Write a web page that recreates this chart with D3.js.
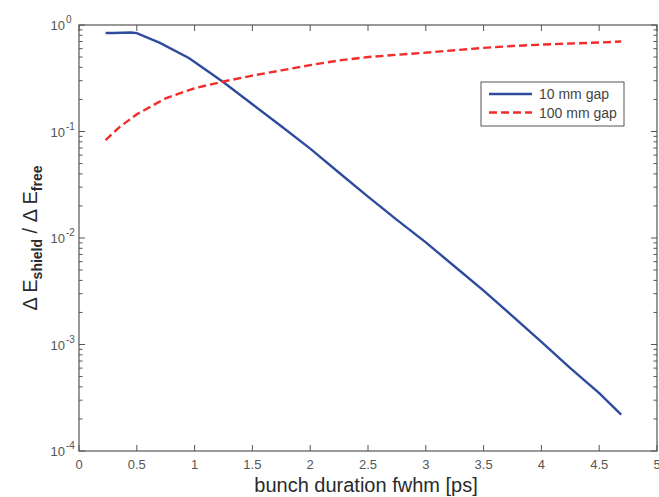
<!DOCTYPE html>
<html>
<head>
<meta charset="utf-8">
<script src="https://cdn.jsdelivr.net/npm/d3@7"></script>
<style>
  body { margin: 0; background: #fff; }
  svg { font-family: "Liberation Sans", Arial, sans-serif; }
</style>
</head>
<body>
<svg id="chart" width="659" height="497"></svg>
<script>
// bunch duration fwhm [ps]
const gap10X = [0.23, 0.3, 0.45, 0.5, 0.7, 0.95, 1.0, 1.25, 1.5, 1.75, 2.0, 2.25, 2.5, 2.75, 3.0, 3.25, 3.5, 3.75, 4.0, 4.25, 4.5, 4.69]
const gap10Y = [0.84, 0.84, 0.85, 0.84, 0.68, 0.49, 0.45, 0.29, 0.18, 0.112, 0.069, 0.041, 0.0245, 0.0148, 0.0091, 0.0054, 0.0032, 0.00185, 0.00106, 0.0006, 0.00035, 0.00022]

const gap100X = [0.23, 0.35, 0.5, 0.75, 1.0, 1.25, 1.5, 1.75, 2.0, 2.25, 2.5, 2.75, 3.0, 3.25, 3.5, 3.75, 4.0, 4.25, 4.5, 4.69]
const gap100Y = [0.083, 0.11, 0.145, 0.205, 0.255, 0.295, 0.335, 0.375, 0.42, 0.465, 0.5, 0.525, 0.55, 0.58, 0.61, 0.635, 0.655, 0.67, 0.685, 0.70]

const xTicks = [0, 0.5, 1, 1.5, 2, 2.5, 3, 3.5, 4, 4.5, 5]
const yTicks = [1e-4, 1e-3, 1e-2, 1e-1, 1]
const yExps = ["-4", "-3", "-2", "-1", "0"]
const legendLabels = ["10 mm gap", "100 mm gap"]

const plotL = 79, plotR = 657, plotT = 25, plotB = 451
const blue = "#2f4b9f", red = "#f22b2b", axisCol = "#555", textCol = "#555"

const svg = d3.select("#chart")

const x = d3.scaleLinear().domain([0, 5]).range([plotL, plotR])
const y = d3.scaleLog().domain([1e-4, 1]).range([plotB, plotT])

// frame
svg.append("rect")
    .attr("x", plotL).attr("y", plotT)
    .attr("width", plotR - plotL).attr("height", plotB - plotT)
    .attr("fill", "none").attr("stroke", axisCol).attr("stroke-width", 1.2)

// x ticks, bottom and top, pointing inward
const major = 6, minor = 3.5
xTicks.forEach(t => {
    svg.append("line").attr("x1", x(t)).attr("x2", x(t))
        .attr("y1", plotB).attr("y2", plotB - major)
        .attr("stroke", axisCol)
    svg.append("line").attr("x1", x(t)).attr("x2", x(t))
        .attr("y1", plotT).attr("y2", plotT + major)
        .attr("stroke", axisCol)
    svg.append("text")
        .attr("x", x(t)).attr("y", plotB + 18)
        .attr("text-anchor", "middle")
        .attr("font-size", 13).attr("fill", textCol)
        .text(t)
})

// y ticks (log), left and right
const minorVals = []
for (let e = -4; e < 0; e++)
    for (let k = 2; k <= 9; k++) minorVals.push(k * Math.pow(10, e))

minorVals.forEach(v => {
    svg.append("line").attr("x1", plotL).attr("x2", plotL + minor)
        .attr("y1", y(v)).attr("y2", y(v)).attr("stroke", axisCol)
    svg.append("line").attr("x1", plotR).attr("x2", plotR - minor)
        .attr("y1", y(v)).attr("y2", y(v)).attr("stroke", axisCol)
})

yTicks.forEach((t, i) => {
    svg.append("line").attr("x1", plotL).attr("x2", plotL + major)
        .attr("y1", y(t)).attr("y2", y(t)).attr("stroke", axisCol)
    svg.append("line").attr("x1", plotR).attr("x2", plotR - major)
        .attr("y1", y(t)).attr("y2", y(t)).attr("stroke", axisCol)
    svg.append("text")
        .attr("x", 65).attr("y", y(t) + 5)
        .attr("text-anchor", "end")
        .attr("font-size", 13).attr("fill", textCol)
        .text("10")
    svg.append("text")
        .attr("x", 66).attr("y", y(t) - 2)
        .attr("font-size", 10).attr("fill", textCol)
        .text(yExps[i])
})

// series
const line = d3.line().x(d => x(d[0])).y(d => y(d[1]))

svg.append("path")
    .datum(d3.zip(gap10X, gap10Y))
    .attr("d", line)
    .attr("fill", "none").attr("stroke", blue).attr("stroke-width", 2.4)

svg.append("path")
    .datum(d3.zip(gap100X, gap100Y))
    .attr("d", line)
    .attr("fill", "none").attr("stroke", red).attr("stroke-width", 2.4)
    .attr("stroke-dasharray", "8,4")

// legend
const lg = svg.append("g")
lg.append("rect")
    .attr("x", 481).attr("y", 82).attr("width", 143).attr("height", 44)
    .attr("fill", "#fff").attr("stroke", axisCol).attr("stroke-width", 1)
const legCols = [blue, red]
legendLabels.forEach((l, i) => {
    const ly = 94 + i * 18.5
    lg.append("line")
        .attr("x1", 489).attr("x2", 532).attr("y1", ly).attr("y2", ly)
        .attr("stroke", legCols[i]).attr("stroke-width", 2.4)
        .attr("stroke-dasharray", i == 1 ? "8,4" : null)
    lg.append("text")
        .attr("x", 539).attr("y", ly + 5)
        .attr("font-size", 14).attr("fill", "#444")
        .text(l)
})

// axis labels
svg.append("text")
    .attr("x", 366).attr("y", 492)
    .attr("text-anchor", "middle")
    .attr("font-size", 20).attr("fill", "#2a2a2a")
    .text("bunch duration fwhm [ps]")

const yl = svg.append("text")
    .attr("transform", "translate(37," + ((plotT + plotB) / 2) + ") rotate(-90)")
    .attr("text-anchor", "middle")
    .attr("font-size", 20).attr("fill", "#2a2a2a")
yl.append("tspan").text("\u0394 E")
yl.append("tspan").attr("font-size", 14).attr("font-weight", "bold").attr("dy", 5).text("shield")
yl.append("tspan").attr("dy", -5).text(" / \u0394 E")
yl.append("tspan").attr("font-size", 14).attr("font-weight", "bold").attr("dy", 5).text("free")
</script>
</body>
</html>
